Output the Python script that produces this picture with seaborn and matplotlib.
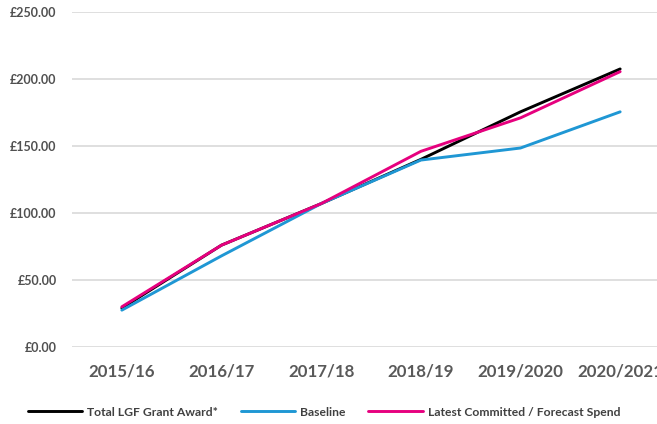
import pandas as pd
import numpy as np
import matplotlib.pyplot as plt
import seaborn as sns

years = ['2015/16', '2016/17', '2017/18', '2018/19', '2019/2020', '2020/2021']
grant_award = [29, 76, 107, 140, 175.5, 207.5]
baseline = [27.5, 68, 107, 139.5, 148.5, 175.5]
forecast = [30, 76, 107, 146, 171, 205.5]

series = ['Total LGF Grant Award*', 'Baseline', 'Latest Committed / Forecast Spend']
colors = ['#000000', '#1f97d4', '#e6007e']

df = pd.DataFrame({
    'year': years * 3,
    'value': grant_award + baseline + forecast,
    'series': [series[0]] * 6 + [series[1]] * 6 + [series[2]] * 6,
})

sns.set_style('white')
plt.rcParams['font.family'] = ['Lato', 'DejaVu Sans']

fig = plt.figure(figsize=(6.57, 4.24), dpi=100)
ax = fig.add_axes([72 / 657, 77 / 424, 598 / 657, 335 / 424])

sns.lineplot(data=df, x='year', y='value', hue='series', palette=colors,
             hue_order=series, linewidth=2.1, ax=ax, legend=False)

ax.set_xlim(-0.5, 5.5)
ax.set_ylim(0, 250)
ax.set_yticks(np.arange(0, 251, 50))
ax.set_yticklabels(['£{:.2f}'.format(v) for v in np.arange(0, 251, 50)])
ax.yaxis.grid(True, color='#d9d9d9', linewidth=1.2)
ax.set_axisbelow(True)
for s in ax.spines.values():
    s.set_visible(False)
ax.tick_params(axis='y', length=0, pad=11, labelsize=9, labelcolor='#505050')
ax.tick_params(axis='x', length=0, pad=12, labelsize=12.2, labelcolor='#595959')
for lab in ax.get_xticklabels() + ax.get_yticklabels():
    lab.set_fontweight('bold')
ax.set_xlabel('')
ax.set_ylabel('')

handles = [plt.Line2D([], [], color=c, linewidth=2.1) for c in colors]
leg = fig.legend(handles, series, loc='center', bbox_to_anchor=(0.493, 0.028),
                 ncol=3, frameon=False, handlelength=4.5, columnspacing=1.9,
                 handletextpad=0.4, prop={'size': 8.7, 'weight': 'bold'})
for t in leg.get_texts():
    t.set_color('#404040')

fig.savefig('out.png', dpi=100)
